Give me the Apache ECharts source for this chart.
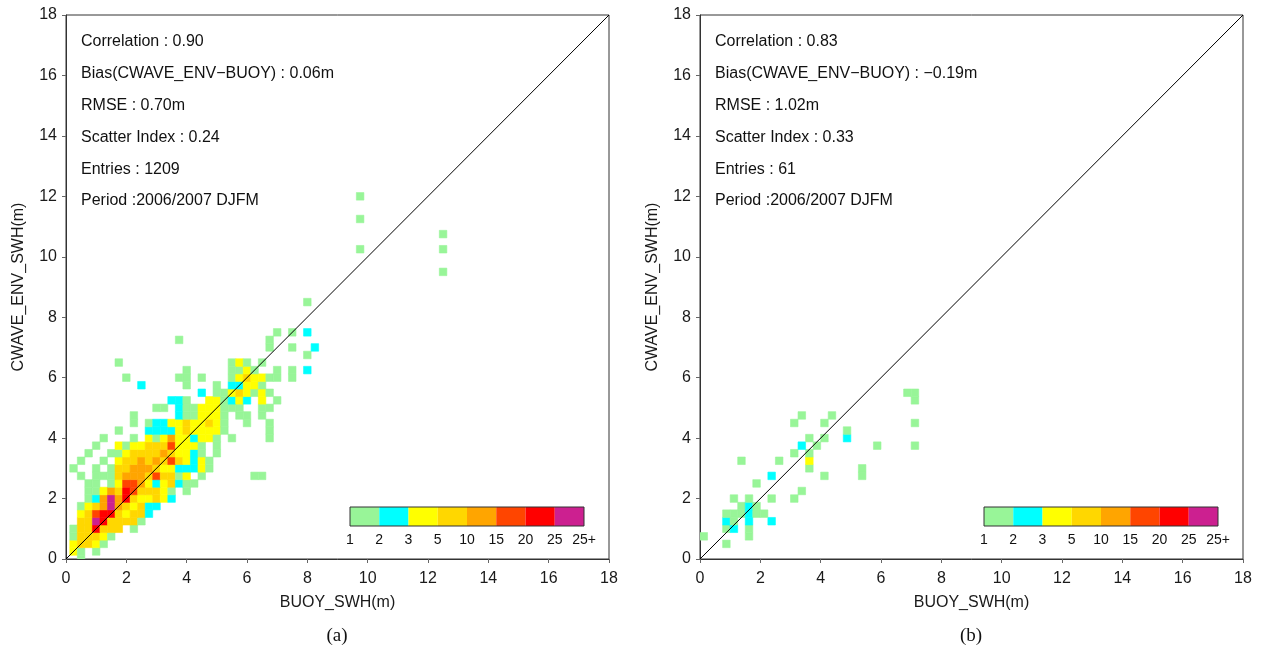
<!DOCTYPE html>
<html><head><meta charset="utf-8">
<script src="https://cdn.jsdelivr.net/npm/echarts@6/dist/echarts.min.js"></script>
<style>html,body{margin:0;padding:0;background:#fff}#c{width:1264px;height:656px}</style>
</head><body><div id="c"></div>
<script>
// ---------- data ----------
const binSize = 0.25;                 // cell size (m)
const axisMax = 18;
const legendLabels = ['1','2','3','5','10','15','20','25','25+'];
const legendColors = ['#98f598','#00ffff','#ffff00','#ffd700','#ffa500','#ff4500','#ff0000','#cc2090'];
const legendBounds = [1,2,3,5,10,15,20,25];
// representative counts for each colour class
const classCounts = {g:1, c:2, y:4, o:7, O:12, r:17, R:22, m:30};

const statsA = ['Correlation : 0.90','Bias(CWAVE_ENV\u2212BUOY) : 0.06m','RMSE : 0.70m','Scatter Index : 0.24','Entries : 1209','Period :2006/2007 DJFM'];
const statsB = ['Correlation : 0.83','Bias(CWAVE_ENV\u2212BUOY) : \u22120.19m','RMSE : 1.02m','Scatter Index : 0.33','Entries : 61','Period :2006/2007 DJFM'];
const captions = ['(a)','(b)'];
const xName = 'BUOY_SWH(m)';
const yName = 'CWAVE_ENV_SWH(m)';
const diagonal = [[0,0],[18,18]];

// panel (a): cell centres, row j -> y = j*0.25, char i -> x = i*0.25
const rowsA = [
  "..g",
  ".yg.g",
  ".yooyg",
  ".goooyg",
  ".gooRooo.g",
  "..oomRoooog",
  "..yorRRoyooc",
  "..gyoOmOoyocc",
  "...gcOmORoyyoyc",
  "...ggyOoRroooyg.g",
  "...gg.gyrrOycyocgg",
  "..g.gggoOOOoroogy.g......gg",
  ".g..g.gooOOOoyycccyg",
  "..g..g.yooOoOoroycyg",
  "...g..ggyooooOoyycg.g",
  "....g..ygyyoooryyyg.g",
  ".....g...g.ygyOyycyyg.g....g",
  ".......g...ccccyoyyyyg.....g",
  ".........g.gccyyoyyoyg..g..g",
  ".........g.....cggyyyg.gg.g",
  "............gg.cggyyyggg..gg",
  "..............ccg..yygcyc.y.g",
  "..................c.ggyoygyg",
  "..........c.....g...g.ccyyg",
  "........g......gg.g...gyoyygg.g",
  "................g.....ggyg..g.g.c",
  ".......g..............gyg.g",
  "................................g",
  "...........................g..g..c",
  "...............g...........g",
  "............................g.g.c",
  "",
  "",
  "",
  "................................g"
];
const sparseA = [[12.5,9.5,'g'],[9.75,10.25,'g'],[12.5,10.25,'g'],[12.5,10.75,'g'],[9.75,11.25,'g'],[9.75,12.0,'g']];
const xShiftA = 0;      // column centres at multiples of 0.25

// panel (b): columns centred half a bin to the right
const rowsB = [
  "",
  "",
  "...g",
  "g.....g",
  "...gc.g",
  "...cg.c..c",
  "...gggcgg",
  ".....gcg",
  "....g.g..g..g",
  ".............g",
  ".......g",
  ".........c......g....g",
  "..............g......g",
  ".....g....g...y",
  "............g.g",
  ".............c.g.......g....g",
  "..............g.g..c",
  "...................g",
  "............g...g...........g",
  ".............g...g",
  "",
  "............................g",
  "...........................gg"
];
const sparseB = [];
const xShiftB = 0.5;

// ---------- build ----------
function cells(rows, sparse, xShift){
  const out = [];
  rows.forEach((row, j) => {
    for (let i = 0; i < row.length; i++) {
      const ch = row[i];
      if (ch !== '.') out.push([(i + xShift)*binSize, j*binSize, classCounts[ch]]);
    }
  });
  sparse.forEach(s => out.push([s[0], s[1], classCounts[s[2]]]));
  return out;
}
const dataA = cells(rowsA, sparseA, xShiftA);
const dataB = cells(rowsB, sparseB, xShiftB);

const FONT = '"Liberation Sans", Arial, sans-serif';
const grids = [
  {left: 66, top: 15, width: 543, height: 544},
  {left: 700, top: 15, width: 543, height: 544}
];

function renderCell(params, api){
  const x = api.value(0), y = api.value(1), h = binSize/2;
  const p0 = api.coord([x - h, y + h]);
  const p1 = api.coord([x + h, y - h]);
  const c = api.visual('color');
  return {type:'rect', shape:{x:p0[0], y:p0[1], width:p1[0]-p0[0], height:p1[1]-p0[1]},
          style:{fill:c, stroke:c, lineWidth:0.6}};
}

function axisCommon(){
  return {
    type:'value', min:0, max:axisMax, interval:2,
    axisLine:{show:true, lineStyle:{color:'#333', width:1}},
    axisTick:{show:true, inside:false, length:4, lineStyle:{color:'#666'}},
    splitLine:{show:false},
    nameTextStyle:{color:'#1a1a1a', fontSize:16, fontFamily:FONT},
    nameLocation:'middle'
  };
}

const xAxes = [0,1].map(k => Object.assign(axisCommon(), {gridIndex:k, name:xName, nameGap:36,
  axisLabel:{color:'#1a1a1a', fontSize:16, fontFamily:FONT, margin:12}}));
const yAxes = [0,1].map(k => Object.assign(axisCommon(), {gridIndex:k, name:yName, nameGap:39,
  axisLabel:{color:'#1a1a1a', fontSize:16, fontFamily:FONT, margin:9}}));

const pieces = legendBounds.map((b, k) => {
  const p = {gte:b, color:legendColors[k]};
  if (k < legendBounds.length-1) p.lt = legendBounds[k+1];
  return p;
});

const graphics = [];
[statsA, statsB].forEach((lines, k) => {
  const gx = grids[k].left + 15;
  lines.forEach((t, n) => {
    graphics.push({type:'text', left:gx, top:34 + n*31.8,
      style:{text:t, fontSize:16, fontFamily:FONT, fill:'#111'}});
  });
  // colour bar legend
  const bx = grids[k].left + 284, by = 507, seg = 29.25, bh = 19;
  legendColors.forEach((col, n) => {
    graphics.push({type:'rect', shape:{x:bx + n*seg, y:by, width:seg, height:bh}, style:{fill:col}});
  });
  graphics.push({type:'rect', shape:{x:bx, y:by, width:seg*legendColors.length, height:bh},
    style:{fill:'none', stroke:'#333', lineWidth:1}});
  legendLabels.forEach((t, n) => {
    graphics.push({type:'text', x:bx + n*seg, y:by + bh + 14,
      style:{text:t, fontSize:14, fontFamily:FONT, fill:'#111', align:'center', verticalAlign:'middle'}});
  });
  graphics.push({type:'text', x:grids[k].left + 271, y:636,
    style:{text:captions[k], fontSize:19, fontFamily:'"Liberation Serif", "Times New Roman", serif', fill:'#111', align:'center', verticalAlign:'middle'}});
});

const chart = echarts.init(document.getElementById('c'), null, {renderer:'canvas'});
chart.setOption({
  animation:false,
  backgroundColor:'#fff',
  grid: grids.map(g => Object.assign({show:true, borderColor:'#333', borderWidth:1, backgroundColor:'transparent'}, g)),
  xAxis: xAxes,
  yAxis: yAxes,
  visualMap: {type:'piecewise', show:false, dimension:2, seriesIndex:[0,1], pieces:pieces},
  series: [
    {type:'custom', xAxisIndex:0, yAxisIndex:0, data:dataA, renderItem:renderCell, clip:true, z:2},
    {type:'custom', xAxisIndex:1, yAxisIndex:1, data:dataB, renderItem:renderCell, clip:true, z:2},
    {type:'line', xAxisIndex:0, yAxisIndex:0, data:diagonal, symbol:'none', lineStyle:{color:'#000', width:1}, z:3},
    {type:'line', xAxisIndex:1, yAxisIndex:1, data:diagonal, symbol:'none', lineStyle:{color:'#000', width:1}, z:3}
  ],
  graphic: graphics
});
</script>
</body></html>
